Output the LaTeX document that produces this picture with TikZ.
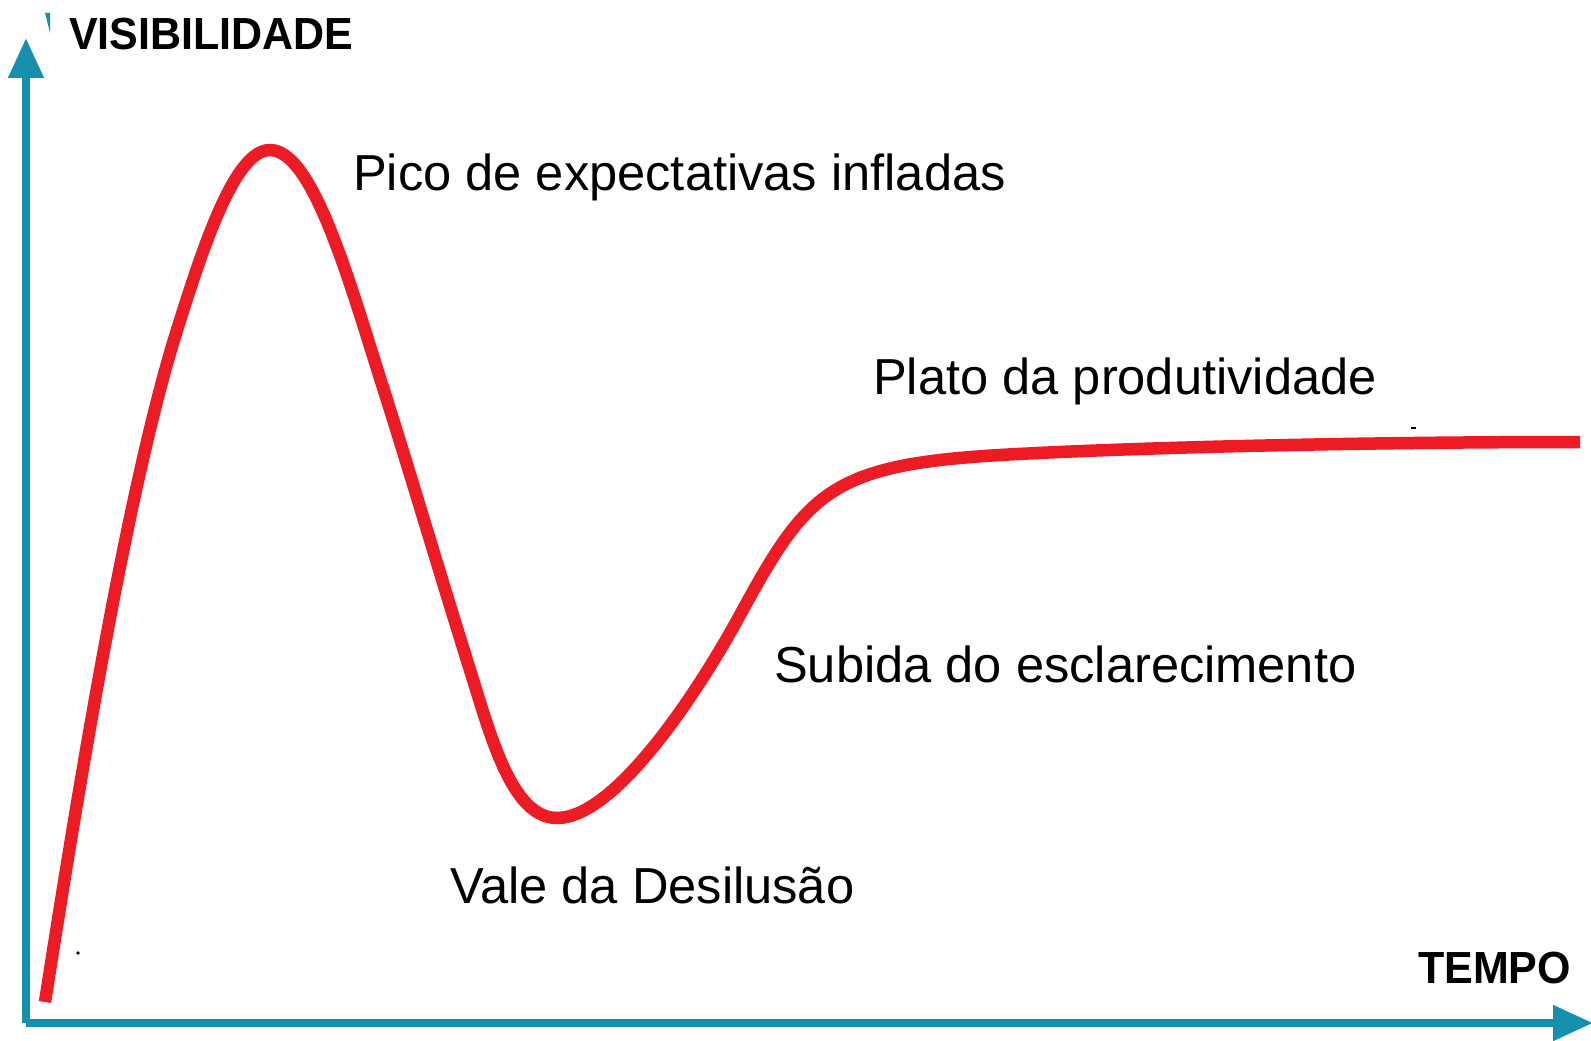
\documentclass[tikz,border=0pt]{standalone}
\usepackage{graphicx}
\usepackage{fontspec}
\setmainfont{Liberation Sans}
\usetikzlibrary{arrows.meta}
\definecolor{axisteal}{RGB}{22,144,172}
\definecolor{curvered}{RGB}{237,28,36}
\newcommand{\narrowtext}[1]{\scalebox{0.955}[1]{#1}}
\begin{document}
\begin{tikzpicture}[x=1pt,y=-1pt,
  axisline/.style={draw=axisteal,line width=8pt,-{Triangle[length=40pt,width=34pt]}},
  hype/.style={draw=curvered,line width=12.5pt,line cap=butt,line join=round},
  phase/.style={anchor=base west,inner sep=0pt,font=\fontsize{50.6}{60}\selectfont},
  axislabel/.style={anchor=base west,inner sep=0pt,font=\fontsize{45}{54}\selectfont\bfseries}]
\useasboundingbox[fill=white] (0,0) rectangle (1591,1041);
\coordinate (origin) at (26,1023);
\coordinate (ytop) at (26,38);
\coordinate (xend) at (1593,1023);
\draw[axisline] (origin) -- (ytop);
\draw[axisline] (origin) -- (xend);
\coordinate (c0) at (45,1002);
\coordinate (c1) at (177,330);
\coordinate (peak) at (270,150);
\coordinate (c2) at (387,400);
\coordinate (c3) at (470,670);
\coordinate (valley) at (557,818);
\coordinate (c4) at (740,615);
\coordinate (c5) at (1000,455);
\coordinate (c6) at (1580,442);
\draw[hype] (c0) .. controls (76,804) and (126,492) .. (c1)
  .. controls (204,244) and (235,150) .. (peak)
  .. controls (315,150) and (353,295) .. (c2)
  .. controls (414,486) and (443,584) .. (c3)
  .. controls (491,737) and (512,818) .. (valley)
  .. controls (617,818) and (702,685) .. (c4)
  .. controls (807,492) and (830,465) .. (c5)
  .. controls (1120,448) and (1350,442) .. (c6);
\node[axislabel] (vis) at (69,50) {\narrowtext{VISIBILIDADE}};
\node[axislabel] (tempo) at (1418,983) {\narrowtext{TEMPO}};
\node[phase] (pico) at (353,190) {Pico de expectativas infladas};
\node[phase] (plato) at (873,394) {Plato da produtividade};
\node[phase] (subida) at (774,682) {Subida do esclarecimento};
\node[phase] (vale) at (450,903) {Vale da Desilusão};
\fill[axisteal] (45,13) -- (50,13) -- (50,33) -- cycle;
\fill[black] (78,953) circle (1.8pt);
\fill[black] (1411,427) rectangle (1416,429);
\end{tikzpicture}
\end{document}
